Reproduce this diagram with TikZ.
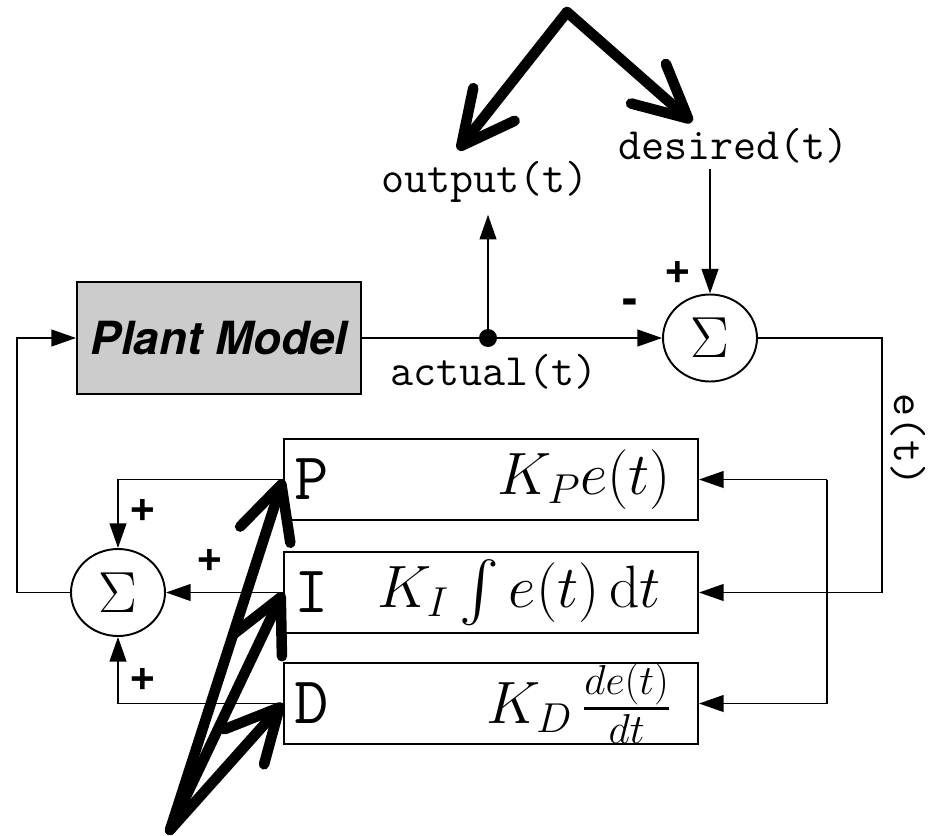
\RequirePackage{fix-cm}
\documentclass[tikz,border=0pt]{standalone}
\usepackage{amsmath,amssymb}
\usepackage{fontspec}
\newfontfamily\heros{TeX Gyre Heros}
\usepackage{tikz}
\usetikzlibrary{arrows.meta,positioning,calc,shapes.geometric}
\definecolor{plantgray}{gray}{0.8}

\tikzset{
  sig/.style={-{Triangle[length=14pt,width=9.5pt]},line width=1.1pt},
  wire/.style={line width=1.1pt},
  sumnode/.style={draw,line width=1.1pt,ellipse,minimum width=1.88cm,
    minimum height=1.74cm,inner sep=0pt,font=\fontsize{33}{38}\selectfont},
  pidbox/.style={draw,line width=1.1pt,minimum width=8.28cm,minimum height=1.62cm},
  pidlbl/.style={inner sep=0pt,font=\ttfamily\fontsize{38}{42}\selectfont},
  gain/.style={inner sep=0pt,font=\fontsize{34}{40}\selectfont},
  sigtext/.style={font=\ttfamily\fontsize{25.5}{30}\selectfont},
  sgn/.style={font=\heros\bfseries\fontsize{26}{30}\selectfont},
  hand/.style={line width=6pt,line cap=round,line join=round,
    -{Straight Barb[length=30pt,width=30pt,round]}},
}

\begin{document}
\begin{tikzpicture}
        \useasboundingbox (0,0) rectangle (18.6,16.7);
        % ---- plant and summing points ----
        \node[draw,line width=1.1pt,fill=plantgray,minimum width=5.68cm,minimum height=2.24cm,
            font=\heros\bfseries\itshape\fontsize{26}{30}\selectfont] (plant) at (4.38,9.94) {Plant Model};
        \node[sumnode] (sig1) at (14.2,9.94) {$\Sigma$};
        \node[sumnode] (sig2) at (2.36,4.85) {$\Sigma$};
        % ---- P, I, D blocks ----
        \node[pidbox] (P) at (9.82,7.11) {};
        \node[pidbox] (I) at (9.82,4.85) {};
        \node[pidbox] (D) at (9.82,2.63) {};
        \node[pidlbl,right=0.22cm of P.west] (Plbl) {P};
        \node[pidlbl,right=0.22cm of I.west] (Ilbl) {I};
        \node[pidlbl,right=0.22cm of D.west] (Dlbl) {D};
        \node[gain,left=0.55cm of P.east] (Pgain) {$K_P e(t)$};
        \node[gain,left=0.75cm of I.east] (Igain) {$K_I \int e(t)\,\mathrm{d}t$};
        \node[gain,left=0.55cm of D.east] (Dgain) {$K_D\,\frac{de(t)}{dt}$};
        % ---- signal names ----
        \node[sigtext] (output) at (9.7,13.06) {output(t)};
        \node[sigtext] (desired) at (14.67,13.79) {desired(t)};
        \node[sigtext] (actual) at (9.88,9.26) {actual(t)};
        \node[sigtext,rotate=-90] (err) at (18.16,7.9) {e(t)};
        % ---- signs ----
        \node[sgn] (pdes) at (13.56,11.26) {+};
        \node[sgn] (mact) at (12.6,10.56) {-};
        \node[sgn] (pP) at (2.86,6.5) {+};
        \node[sgn] (pI) at (4.2,5.5) {+};
        \node[sgn] (pD) at (2.86,3.12) {+};
        % ---- helper points ----
        \coordinate (tap) at (9.76,9.94);
        \coordinate (ebus) at (17.64,4.85);
        \coordinate (pbr) at (16.54,7.11);
        \coordinate (fb) at (0.34,4.85);
        % ---- forward path ----
        \draw[wire] (plant.east) -- (tap);
        \draw[sig] (tap) -- (sig1.west);
        \draw[sig,shorten >=0.12cm] (tap) -- (tap |- output.south);
        \fill (tap) circle (0.18);
        \draw[sig] (desired.south -| sig1.north) -- (sig1.north);
        % ---- error to the blocks ----
        \draw[sig] (sig1.east) -| (ebus) -- (I.east);
        \draw[sig] (pbr) -- (P.east);
        \draw[sig] (pbr) |- (D.east);
        % ---- blocks to the second sum ----
        \draw[sig] (P.west) -| (sig2.north);
        \draw[sig] (I.west) -- (sig2.east);
        \draw[sig] (D.west) -| (sig2.south);
        \draw[sig] (sig2.west) -- (fb) |- (plant.west);
        % ---- thick pointers ----
        \coordinate (topfork) at (11.34,16.46);
        \coordinate (outtip) at (9.16,13.7);
        \coordinate (destip) at (13.84,14.26);
        \coordinate (pidfork) at (3.4,0.1);
        \draw[hand] (topfork) -- (outtip);
        \draw[hand] (topfork) -- (destip);
        \draw[hand] (pidfork) -- (P.west);
        \draw[hand] (pidfork) -- (I.west);
        \draw[hand] (pidfork) -- (D.west);
      \end{tikzpicture}
\end{document}
